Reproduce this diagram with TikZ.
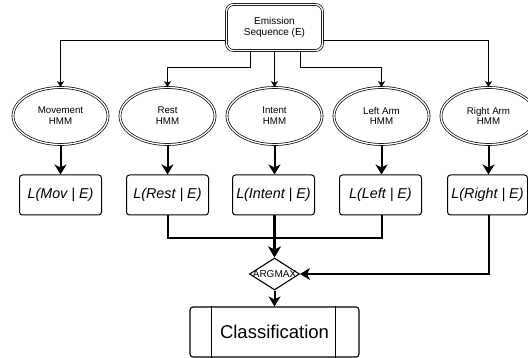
\documentclass[tikz,border=0pt]{standalone}
\usepackage{fontspec}
\setmainfont{Liberation Sans}
\usetikzlibrary{shapes.geometric,arrows.meta,calc}
\begin{document}
\begin{tikzpicture}[x=1pt,y=-1pt,
  dbl/.style={draw, double, double distance=1.3pt, line width=0.7pt},
  emisbox/.style={dbl, rectangle, rounded corners=7pt, minimum width=96pt, minimum height=46pt, align=center, inner sep=0pt, font=\fontsize{10}{11.5}\selectfont},
  hmm/.style={dbl, ellipse, minimum width=95pt, minimum height=57pt, inner sep=0pt, align=center, font=\fontsize{9.7}{10.8}\selectfont},
  lbox/.style={draw, line width=1pt, rounded corners=3pt, minimum width=82pt, minimum height=40pt, inner sep=0pt, font=\fontsize{14.3}{16}\selectfont\itshape},
  argbox/.style={draw, line width=1.1pt, diamond, minimum width=50pt, minimum height=32pt, inner sep=0pt, font=\fontsize{10}{11}\selectfont},
  clsbox/.style={draw, line width=1.1pt, rounded corners=3pt, minimum width=169pt, minimum height=50pt, inner sep=0pt, font=\fontsize{18.5}{20}\selectfont},
  thinarrow/.style={line width=0.8pt, -{Stealth[length=6pt,width=7pt,inset=1.5pt]}},
  thickarrow/.style={line width=2pt, -{Stealth[length=10pt,width=12pt,inset=3pt]}},
  mergeline/.style={line width=2pt},
]
\fill[white] (0,0) rectangle (528,358);
\useasboundingbox (0,0) rectangle (528,358);

\node[emisbox] (emis) at (274.5,27.5) {Emission\\Sequence (E)};

\node[hmm] (h1) at (60.5,116) {Movement\\HMM};
\node[hmm] (h2) at (167.5,116) {Rest\\HMM};
\node[hmm] (h3) at (274.5,116) {Intent\\HMM};
\node[hmm] (h4) at (381.5,116) {Left Arm\\HMM};
\node[hmm] (h5) at (488.5,116) {Right Arm\\HMM};

\node[lbox] (l1) at (60.5,195) {L(Mov | E)};
\node[lbox] (l2) at (167.5,195) {L(Rest | E)};
\node[lbox] (l3) at (273.5,195) {L(Intent | E)};
\node[lbox] (l4) at (380.5,195) {L(Left | E)};
\node[lbox, minimum width=80pt] (l5) at (487.5,195) {L(Right | E)};

\node[argbox] (am) at (274.5,274) {\makebox[0pt]{ARGMAX}};

\node[clsbox] (cls) at (274.5,332) {Classification};
\draw[line width=1.1pt] ([xshift=22pt]cls.north west) -- ([xshift=22pt]cls.south west);
\draw[line width=1.1pt] ([xshift=-24pt]cls.north east) -- ([xshift=-24pt]cls.south east);

% top connectors
\draw[thinarrow] ([yshift=-12.5pt]emis.west) -| (h1.north);
\draw[thinarrow] ([xshift=-24.5pt]emis.south) -- ++(0,17) -| (h2.north);
\draw[thinarrow] (emis.south) -- (h3.north);
\draw[thinarrow] ([xshift=25.5pt]emis.south) -- ++(0,17) -| (h4.north);
\draw[thinarrow] ([yshift=-12.5pt]emis.east) -| (h5.north);

% ellipse to boxes
\draw[thickarrow] (h1.south) -- (l1.north -| h1.south);
\draw[thickarrow] (h2.south) -- (l2.north -| h2.south);
\draw[thickarrow] (h3.south) -- (l3.north -| h3.south);
\draw[thickarrow] (h4.south) -- (l4.north -| h4.south);
\draw[thickarrow] (h5.south) -- (l5.north -| h5.south);

% merge
\draw[mergeline] (l2.south -| h2.south) -- ++(0,23) -| (l4.south -| h4.south);
\draw[line width=2.6pt, -{Stealth[length=11pt,width=13pt,inset=3pt]}] (l3.south -| am.north) -- (am.north);
\draw[thickarrow] (l5.south -| h5.south) |- (am.east);
\draw[thickarrow] (am.south) -- (cls.north);
\end{tikzpicture}
\end{document}
